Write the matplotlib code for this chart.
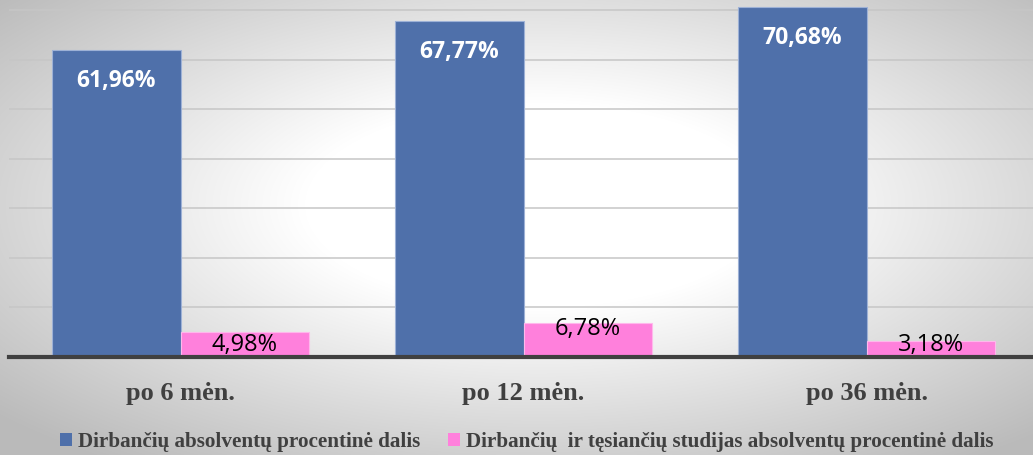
import numpy as np
import matplotlib
matplotlib.use("Agg")
import matplotlib.pyplot as plt
from matplotlib.patches import Patch

categories = ["po 6 mėn.", "po 12 mėn.", "po 36 mėn."]
working = [61.96, 67.77, 70.68]
working_studying = [4.98, 6.78, 3.18]
series_names = ["Dirbančių absolventų procentinė dalis",
                "Dirbančių  ir tęsiančių studijas absolventų procentinė dalis"]

def fmt(v):
    return f"{v:.2f}".replace(".", ",") + "%"

W, H = 1033, 455
fig = plt.figure(figsize=(W / 100, H / 100), dpi=100)

# radial gradient background
bg = fig.add_axes([0, 0, 1, 1], zorder=-10)
yy, xx = np.mgrid[0:H, 0:W]
dx = (xx - W * 0.52) / (W * 0.5)
dy = (yy - H * 0.45) / (H * 0.5)
r = np.sqrt(dx ** 2 + dy ** 2)
g = 1 - 0.27 * np.clip((r - 0.45) / 0.95, 0, 1)
img = np.dstack([g, g, g])
bg.imshow(img, aspect="auto", extent=[0, 1, 0, 1], interpolation="bilinear")
bg.axis("off")

ax = fig.add_axes([9 / W, 98 / H, 1029 / W, 357 / H])
ax.set_facecolor("none")
x = np.arange(len(categories))
bw = 0.375
blue = "#4F70AA"
pink = "#FF80DC"
ax.bar(x - bw / 2, working, bw, color=blue, edgecolor="#9DB1D6", linewidth=0.8, zorder=3)
ax.bar(x + bw / 2, working_studying, bw, color=pink, edgecolor="#FFB8EC", linewidth=0.8, zorder=3)

ax.set_xlim(-0.5, 2.5)
ax.set_ylim(0, 72)
ax.set_yticks(np.arange(10, 71, 10))
ax.yaxis.grid(True, color="#C6C6C6", linewidth=1.1, zorder=0)
ax.tick_params(axis="y", length=0, labelleft=False)
for s in ["top", "right", "left"]:
    ax.spines[s].set_visible(False)
ax.spines["bottom"].set_color("#404040")
ax.spines["bottom"].set_linewidth(3)
ax.spines["bottom"].set_zorder(5)
ax.set_xticks(x)
ax.set_xticklabels(categories, fontfamily="Liberation Serif", fontweight="bold",
                   fontsize=19, color="#404040")
ax.tick_params(axis="x", length=0, pad=18)

for xi, v in zip(x, working):
    ax.annotate(fmt(v), (xi - bw / 2, v), xytext=(0, -22.5), textcoords="offset points",
                ha="center", va="center", color="white", fontweight="bold",
                fontfamily="Open Sans", fontsize=16.5, zorder=6)
for xi, v in zip(x, working_studying):
    ypos = v - 1.1 if v - 1.1 >= 5 else 2.5
    ax.text(xi + bw / 2, ypos, fmt(v), ha="center", va="center",
            color="black", fontfamily="Open Sans", fontsize=17, zorder=6)

handles = [Patch(facecolor=blue, edgecolor="none"), Patch(facecolor=pink, edgecolor="none")]
leg = fig.legend(handles, series_names, loc="center", bbox_to_anchor=(0.51, 13 / H),
                 ncol=2, frameon=False, handlelength=0.55, handleheight=0.55,
                 handletextpad=0.3, columnspacing=1.3,
                 prop={"family": "Liberation Serif", "weight": "bold", "size": 15.2})
for t in leg.get_texts():
    t.set_color("#404040")

fig.savefig("out.png", dpi=100)
